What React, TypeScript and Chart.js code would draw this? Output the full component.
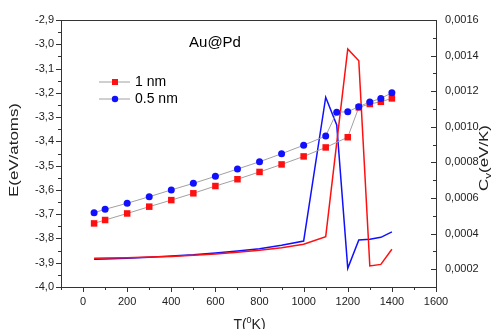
import React, { useEffect, useRef } from 'react';
import { Chart, registerables } from 'chart.js';

Chart.register(...registerables);

// ---- data ----
const seriesNames = ['1 nm', '0.5 nm'];
const chartTitle = 'Au@Pd';

const temps1nm = [50, 100, 200, 300, 400, 500, 600, 700, 800, 900, 1000, 1100, 1200, 1250, 1300, 1350, 1400];
const energy1nm = [-3.738, -3.724, -3.697, -3.669, -3.642, -3.614, -3.584, -3.556, -3.526, -3.495, -3.462, -3.425, -3.383, -3.26, -3.246, -3.237, -3.223];
const cv1nm = [0.000261, 0.000263, 0.000265, 0.000269, 0.000272, 0.000278, 0.000285, 0.000295, 0.000306, 0.000321, 0.00034, 0.000383, 0.001437, 0.001371, 0.000218, 0.000227, 0.000312];

const temps05nm = [50, 100, 200, 300, 400, 500, 600, 700, 800, 900, 1000, 1100, 1150, 1200, 1250, 1300, 1350, 1400];
const energy05nm = [-3.694, -3.68, -3.655, -3.628, -3.6, -3.573, -3.544, -3.514, -3.484, -3.451, -3.416, -3.378, -3.28, -3.278, -3.257, -3.238, -3.223, -3.2];
const cv05nm = [0.000256, 0.000257, 0.000261, 0.000267, 0.000274, 0.000281, 0.000291, 0.000302, 0.000315, 0.000334, 0.000358, 0.001166, 0.00101, 0.000205, 0.000364, 0.000368, 0.000379, 0.00041];

const xRange = [-100, 1600];
const xTickValues = [0, 200, 400, 600, 800, 1000, 1200, 1400, 1600];
const xMajorStep = 200;
const eRange = [-4.0, -2.9];
const eStep = 0.1;
const cvRange = [0.0001, 0.0016];
const cvStep = 0.0002;

// ---- styles ----
const FONT = '"Liberation Sans", Arial, sans-serif';
const RED = '#ff1010';
const BLUE = '#1010ff';
const GREY = '#a0a0a0';
const AXIS = '#333333';
const TEXT = '#222222';

const toXY = (xs: number[], ys: number[]) => xs.map((x, i) => ({ x, y: ys[i] }));

const isMultiple = (v: number, step: number) => Math.abs(v / step - Math.round(v / step)) < 1e-6;

const decorPlugin = {
  id: 'decor',
  afterDraw(chart: any) {
    const ctx: CanvasRenderingContext2D = chart.ctx;
    const { left, right, top, bottom } = chart.chartArea;
    const sx = chart.scales.x;
    const sy = chart.scales.y;
    const sy1 = chart.scales.y1;
    ctx.save();
    ctx.strokeStyle = AXIS;
    ctx.lineWidth = 1;
    const line = (x1: number, y1: number, x2: number, y2: number) => {
      ctx.beginPath();
      ctx.moveTo(x1, y1);
      ctx.lineTo(x2, y2);
      ctx.stroke();
    };
    // top frame
    line(left, Math.round(top) + 0.5, right, Math.round(top) + 0.5);

    // x ticks (major + minor)
    const xHalf = xMajorStep / 2;
    for (let v = xRange[0]; v <= xRange[1] + 1e-9; v += xHalf) {
      const px = Math.round(sx.getPixelForValue(v)) + 0.5;
      const len = isMultiple(v, xMajorStep) ? 5 : 3;
      line(px, bottom, px, bottom + len);
    }
    // left y ticks
    const eHalf = eStep / 2;
    const nE = Math.round((eRange[1] - eRange[0]) / eHalf);
    for (let i = 0; i <= nE; i++) {
      const v = eRange[0] + i * eHalf;
      const py = Math.round(sy.getPixelForValue(v)) + 0.5;
      const len = i % 2 === 0 ? 5 : 3;
      line(left - len, py, left, py);
    }
    // right y ticks (inward)
    const cHalf = cvStep / 2;
    const nC = Math.round((cvRange[1] - cvRange[0]) / cHalf);
    for (let i = 0; i <= nC; i++) {
      const v = cvRange[0] + i * cHalf;
      const py = Math.round(sy1.getPixelForValue(v)) + 0.5;
      const len = isMultiple(v, cvStep) ? 5 : 3;
      line(right - len, py, right, py);
    }

    // chart title
    ctx.fillStyle = '#000';
    ctx.font = `15px ${FONT}`;
    ctx.textAlign = 'center';
    ctx.textBaseline = 'middle';
    ctx.fillText(chartTitle, 215, 43);

    // legend
    const items = [
      { name: seriesNames[0], color: RED, shape: 'rect', y: 82 },
      { name: seriesNames[1], color: BLUE, shape: 'circle', y: 99 },
    ];
    items.forEach((it) => {
      ctx.strokeStyle = GREY;
      ctx.lineWidth = 1;
      line(99, it.y, 130, it.y);
      ctx.fillStyle = it.color;
      if (it.shape === 'rect') {
        ctx.fillRect(112, it.y - 3, 6, 6);
      } else {
        ctx.beginPath();
        ctx.arc(115, it.y, 3.2, 0, Math.PI * 2);
        ctx.fill();
      }
      ctx.fillStyle = '#000';
      ctx.font = `14px ${FONT}`;
      ctx.textAlign = 'left';
      ctx.textBaseline = 'middle';
      ctx.fillText(it.name, 135, it.y);
    });

    // x title  T(0K)
    ctx.fillStyle = TEXT;
    ctx.textBaseline = 'alphabetic';
    ctx.textAlign = 'left';
    const big = `14px ${FONT}`;
    const small = `9px ${FONT}`;
    ctx.font = big;
    const wa = ctx.measureText('T(').width;
    const wc = ctx.measureText('K)').width;
    ctx.font = small;
    const wb = ctx.measureText('0').width;
    const cx = (left + right) / 2 + 1;
    let x0 = cx - (wa + wb + wc) / 2;
    const by = 329;
    ctx.font = big;
    ctx.fillText('T(', x0, by);
    x0 += wa;
    ctx.font = small;
    ctx.fillText('0', x0, by - 6);
    x0 += wb;
    ctx.font = big;
    ctx.fillText('K)', x0, by);

    // left y title
    ctx.save();
    ctx.translate(14, 150);
    ctx.rotate(-Math.PI / 2);
    ctx.scale(1.3, 1);
    ctx.font = `13px ${FONT}`;
    ctx.textAlign = 'center';
    ctx.textBaseline = 'middle';
    ctx.fillText('E(eV/atoms)', 0, 0);
    ctx.restore();

    // right y title Cv(eV/K)
    ctx.save();
    ctx.translate(483, 158);
    ctx.rotate(-Math.PI / 2);
    ctx.scale(1.3, 1);
    ctx.textAlign = 'left';
    ctx.textBaseline = 'alphabetic';
    const mid = `13px ${FONT}`;
    ctx.font = mid;
    const w1 = ctx.measureText('C').width;
    const w3 = ctx.measureText('(eV/K)').width;
    ctx.font = small;
    const w2 = ctx.measureText('v').width;
    let t0 = -(w1 + w2 + w3) / 2;
    ctx.font = mid;
    ctx.fillText('C', t0, 5);
    t0 += w1;
    ctx.font = small;
    ctx.fillText('v', t0, 8);
    t0 += w2;
    ctx.font = mid;
    ctx.fillText('(eV/K)', t0, 5);
    ctx.restore();

    ctx.restore();
  },
};

export default function App() {
  const ref = useRef<HTMLCanvasElement | null>(null);

  useEffect(() => {
    document.body.style.margin = '0';
    if (!ref.current) return;
    const chart = new Chart(ref.current, {
      type: 'line',
      data: {
        datasets: [
          {
            label: seriesNames[1],
            data: toXY(temps05nm, energy05nm),
            yAxisID: 'y',
            borderColor: GREY,
            borderWidth: 1,
            pointStyle: 'circle',
            pointRadius: 3.5,
            pointBackgroundColor: BLUE,
            pointBorderColor: BLUE,
            pointBorderWidth: 0,
            order: 0,
          },
          {
            label: seriesNames[0],
            data: toXY(temps1nm, energy1nm),
            yAxisID: 'y',
            borderColor: GREY,
            borderWidth: 1,
            pointStyle: 'rect',
            pointRadius: 4.6,
            pointBackgroundColor: RED,
            pointBorderColor: RED,
            pointBorderWidth: 0,
            order: 1,
          },
          {
            label: 'Cv ' + seriesNames[1],
            data: toXY(temps05nm, cv05nm),
            yAxisID: 'y1',
            borderColor: BLUE,
            borderWidth: 1.5,
            pointRadius: 0,
            order: 3,
          },
          {
            label: 'Cv ' + seriesNames[0],
            data: toXY(temps1nm, cv1nm),
            yAxisID: 'y1',
            borderColor: RED,
            borderWidth: 1.5,
            pointRadius: 0,
            order: 2,
          },
        ],
      },
      options: {
        animation: false,
        responsive: true,
        maintainAspectRatio: false,
        layout: { padding: { top: 20, left: 0, right: 0, bottom: 0 } },
        plugins: { legend: { display: false }, tooltip: { enabled: false }, title: { display: false } },
        elements: { line: { tension: 0 } },
        scales: {
          x: {
            type: 'linear',
            position: 'bottom',
            min: xRange[0],
            max: xRange[1],
            grid: { display: false, drawTicks: false },
            border: { display: true, color: AXIS, width: 1 },
            afterBuildTicks: (s: any) => {
              s.ticks = xTickValues.map((value) => ({ value }));
            },
            ticks: {
              padding: 8,
              color: TEXT,
              font: { family: FONT, size: 11 },
              maxRotation: 0,
              autoSkip: false,
              callback: (v: any) => String(v),
            },
            afterFit: (s: any) => { s.height = 42; },
          },
          y: {
            type: 'linear',
            position: 'left',
            min: eRange[0],
            max: eRange[1],
            grid: { display: false, drawTicks: false },
            border: { display: true, color: AXIS, width: 1 },
            ticks: {
              stepSize: eStep,
              padding: 7,
              color: TEXT,
              font: { family: FONT, size: 11 },
              autoSkip: false,
              callback: (v: any) => Number(v).toFixed(1).replace('.', ','),
            },
            afterFit: (s: any) => { s.width = 61; },
          },
          y1: {
            type: 'linear',
            position: 'right',
            min: cvRange[0],
            max: cvRange[1],
            grid: { display: false, drawTicks: false },
            border: { display: true, color: AXIS, width: 1 },
            ticks: {
              stepSize: cvStep,
              padding: 9,
              color: TEXT,
              font: { family: FONT, size: 11 },
              autoSkip: false,
              callback: (v: any) => (isMultiple(Number(v), cvStep) ? Number(v).toFixed(4).replace('.', ',') : ''),
            },
            afterFit: (s: any) => { s.width = 63; },
          },
        },
      },
      plugins: [decorPlugin],
    });
    return () => chart.destroy();
  }, []);

  return (
    <div style={{ width: 499, height: 329, position: 'relative', background: '#fff' }}>
      <canvas ref={ref} />
    </div>
  );
}
